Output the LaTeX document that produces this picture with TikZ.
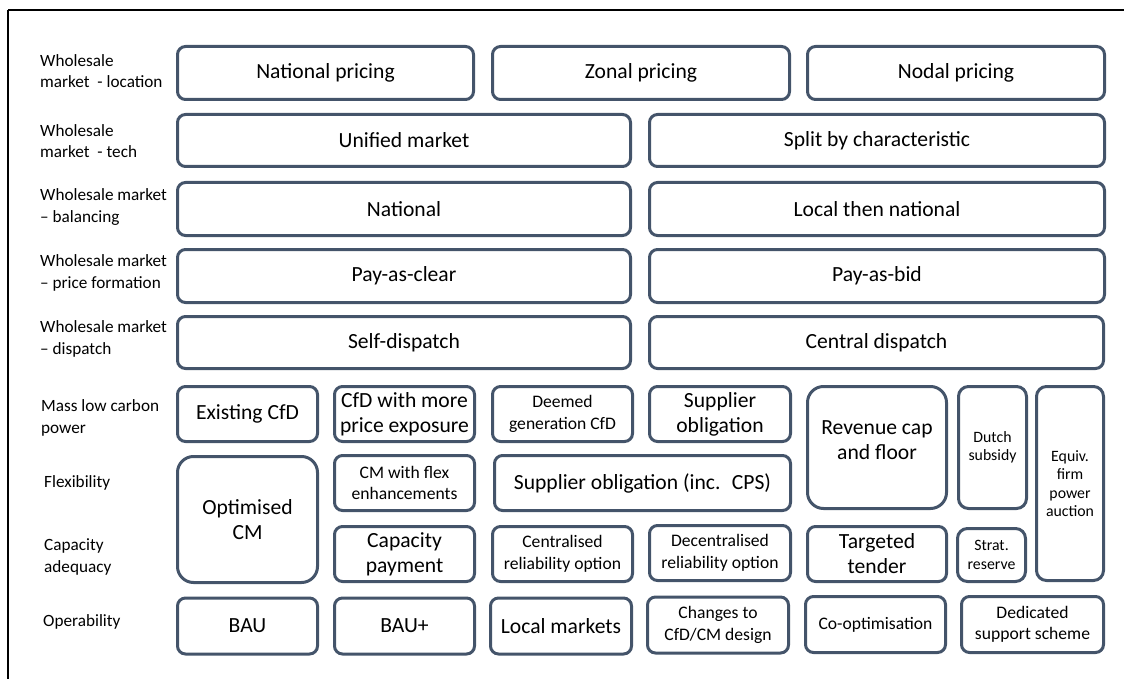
\documentclass[tikz,border=0pt]{standalone}
\usepackage{fontspec}
\setmainfont{Carlito}
\usepackage{tikz}
\usetikzlibrary{positioning}
\definecolor{cellslate}{RGB}{68,84,106}
\newcommand{\cellfont}{\fontsize{21.6}{25}\selectfont}
\newcommand{\cellfontsm}{\fontsize{17.6}{21.5}\selectfont}
\newcommand{\cellfontxs}{\fontsize{15.8}{18.3}\selectfont}
\newcommand{\rowfont}{\fontsize{17.2}{21.7}\selectfont}

\begin{document}
\begin{tikzpicture}[
    x=1pt, y=-1pt,
    cell/.style={rectangle, draw=cellslate, line width=3pt, rounded corners=8pt, align=center, inner sep=2pt, font=\cellfont},
    cellsm/.style={cell, font=\cellfontsm},
    cellxs/.style={cell, font=\cellfontxs, rounded corners=10pt},
    bigcell/.style={cell, rounded corners=16pt},
    rowlabel/.style={anchor=west, align=left, inner sep=0pt, font=\rowfont}
]
\useasboundingbox (0,0) rectangle (1124,679);

% Frame
\draw[line width=1.8pt] (8,10) -- (1124,10);
\draw[line width=1.8pt] (8,10) -- (8,679);

% Row labels
\node[rowlabel] (lloc) at (40,71) {Wholesale\\market \ - location};
\node[rowlabel] (ltech) at (40,141) {Wholesale\\market \ - tech};
\node[rowlabel] (lbal) at (40,207) {Wholesale market\\– balancing};
\node[rowlabel] (lprice) at (40,273) {Wholesale market\\– price formation};
\node[rowlabel] (ldisp) at (40,339) {Wholesale market\\– dispatch};
\node[rowlabel] (lmass) at (41,418) {Mass low carbon\\power};
\node[rowlabel] (lflex) at (44,483) {Flexibility};
\node[rowlabel] (lcap) at (44,557) {Capacity\\adequacy};
\node[rowlabel] (loper) at (43,622) {Operability};

% Wholesale market - location
\node[cell, minimum width=296, minimum height=53] (natp) at (325.5,73) {National pricing};
\node[cell, minimum width=297, minimum height=53] (zonp) at (641,73) {Zonal pricing};
\node[cell, minimum width=297, minimum height=53] (nodp) at (956,73) {Nodal pricing};

% Wholesale market - tech
\node[cell, minimum width=453, minimum height=52] (unif) at (404,140.5) {Unified market};
\node[cell, minimum width=455, minimum height=52] (split) at (877,140.5) {Split by characteristic};

% Wholesale market - balancing
\node[cell, minimum width=453, minimum height=53] (natb) at (404,209) {National};
\node[cell, minimum width=455, minimum height=53] (locb) at (877,209) {Local then national};

% Wholesale market - price formation
\node[cell, minimum width=453, minimum height=53] (paclear) at (404,276) {Pay-as-clear};
\node[cell, minimum width=455, minimum height=53] (pabid) at (877,276) {Pay-as-bid};

% Wholesale market - dispatch
\node[cell, minimum width=453, minimum height=52] (selfd) at (404,342.5) {Self-dispatch};
\node[cell, minimum width=454, minimum height=52] (centd) at (876.5,342.5) {Central dispatch};

% Mass low carbon power
\node[cell, minimum width=140, minimum height=55] (excfd) at (247.5,414) {Existing CfD};
\node[cell, minimum width=140, minimum height=55] (cfdmore) at (404.5,414) {CfD with more\\price exposure};
\node[cellsm, minimum width=140, minimum height=55] (deemed) at (562.5,414) {Deemed\\generation CfD};
\node[cell, minimum width=141, minimum height=55] (supob) at (720,414) {Supplier\\obligation};
\node[bigcell, minimum width=139, minimum height=122] (revcap) at (877,447.5) {Revenue cap\\and floor\\[-10pt]};
\node[cellxs, minimum width=68, minimum height=122] (dutch) at (992.5,447.5) {Dutch\\subsidy};
\node[cellxs, minimum width=67, minimum height=194] (equiv) at (1070,483.5) {Equiv.\\firm\\power\\auction};

% Flexibility
\node[bigcell, minimum width=140, minimum height=126] (optcm) at (247.5,519.5) {Optimised\\CM};
\node[cellsm, minimum width=140, minimum height=55] (cmflex) at (404.5,483) {CM with flex\\enhancements};
\node[cell, minimum width=296, minimum height=55] (supcps) at (642.5,483) {Supplier obligation (inc. \ CPS)};

% Capacity adequacy
\node[cell, minimum width=140, minimum height=55] (cappay) at (404.5,554) {Capacity\\payment};
\node[cellsm, minimum width=140, minimum height=55] (centro) at (562.5,554) {Centralised\\reliability option};
\node[cellsm, minimum width=141, minimum height=55] (decentro) at (720,553) {Decentralised\\reliability option};
\node[cell, minimum width=139, minimum height=55] (target) at (877,554) {Targeted\\tender};
\node[cellxs, minimum width=68, minimum height=53] (strat) at (991.5,555) {Strat.\\reserve};

% Operability
\node[cell, minimum width=140, minimum height=56] (bau) at (247.5,626) {BAU};
\node[cell, minimum width=140, minimum height=56] (bauplus) at (404.5,626) {BAU+};
\node[cell, minimum width=141, minimum height=56] (locmk) at (561,626) {Local markets};
\node[cellsm, minimum width=141, minimum height=56] (changes) at (718,625) {Changes to\\CfD/CM design};
\node[cellsm, minimum width=140, minimum height=56] (coopt) at (875.5,624.5) {Co-optimisation};
\node[cellsm, minimum width=142, minimum height=56] (dedic) at (1032.5,624.5) {Dedicated\\support scheme};

\end{tikzpicture}
\end{document}
